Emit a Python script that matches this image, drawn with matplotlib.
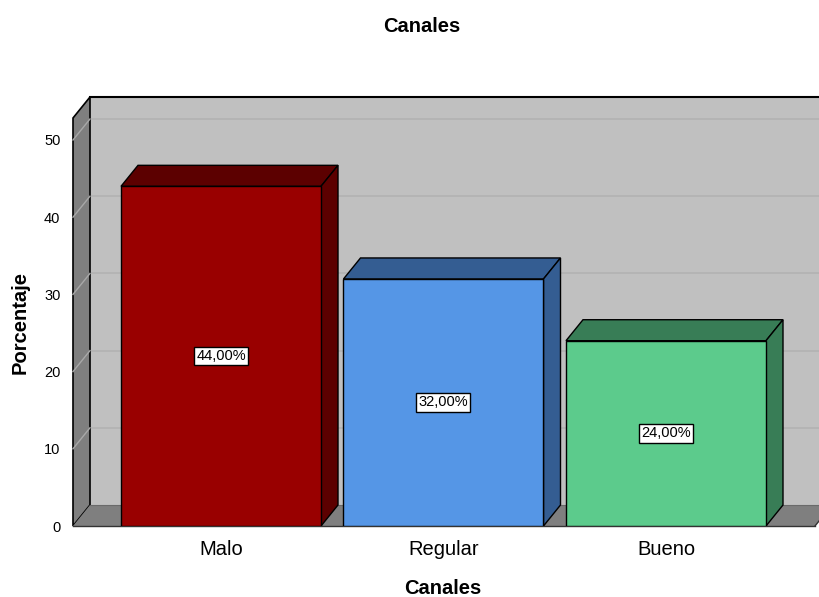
import matplotlib.pyplot as plt
from matplotlib.patches import Polygon

plt.rcParams['font.family'] = ['Liberation Sans', 'DejaVu Sans']

# datos del gráfico
categorias = ["Malo", "Regular", "Bueno"]
porcentajes = [44.0, 32.0, 24.0]
etiquetas = ["44,00%", "32,00%", "24,00%"]
color_frente = ["#990000", "#5596e6", "#5ccb8c"]
color_lado = ["#5c0000", "#345d92", "#387d56"]
yticks = [0, 10, 20, 30, 40, 50]

W, H = 820, 597
fig = plt.figure(figsize=(W / 100, H / 100), dpi=100)

# escala: 7.72 px por unidad en y, 222.5 px por categoría en x
py = 7.72
px = 222.5
x_izq = 73
y_base = 526
alto_ax = 430
ax = fig.add_axes([x_izq / W, (H - y_base) / H, (W - x_izq) / W, alto_ax / H])
x0 = -(221 - x_izq) / px
ax.set_xlim(x0, x0 + (W - x_izq) / px)
ax.set_ylim(0, alto_ax / py)

# desplazamiento de profundidad (efecto 3D)
dx = 17 / px
dy = 21 / py
tope = (y_base - 118) / py
x_fin = x0 + (815 - x_izq) / px
x_der = x0 + (W - x_izq) / px + 0.05

# pared del fondo
ax.add_patch(Polygon([(x0 + dx, dy), (x_der, dy), (x_der, tope + dy), (x0 + dx, tope + dy)],
                     closed=True, facecolor="#c0c0c0", edgecolor="none", zorder=1, clip_on=False))
ax.plot([x0 + dx, x_der], [tope + dy, tope + dy], color="black", lw=1.5, zorder=2, clip_on=False)
for v in yticks[1:]:
    ax.plot([x0 + dx, x_der], [v + dy, v + dy], color="#b2b2b2", lw=1.2, zorder=1.5, clip_on=False)

# pared izquierda
ax.add_patch(Polygon([(x0, 0), (x0 + dx, dy), (x0 + dx, tope + dy), (x0, tope)],
                     closed=True, facecolor="#7f7f7f", edgecolor="black", lw=1.2, zorder=2, clip_on=False))
for v in yticks[1:]:
    ax.plot([x0, x0 + dx], [v, v + dy], color="#a8a8a8", lw=1, zorder=2.5, clip_on=False)

# piso
ax.add_patch(Polygon([(x0, 0), (x_fin, 0), (x_fin + dx, dy), (x0 + dx, dy)],
                     closed=True, facecolor="#7f7f7f", edgecolor="none", zorder=2, clip_on=False))
ax.plot([x0, x_fin], [0, 0], color="#333333", lw=1, zorder=2.6, clip_on=False)
ax.plot([x_fin, x_fin + dx], [0, dy], color="#333333", lw=1, zorder=2.6, clip_on=False)
ax.plot([x0 + dx, x_der], [dy, dy], color="#6a6a6a", lw=0.8, zorder=2.6, clip_on=False)

# barras en 3D: tapa, lateral y frente
ancho = 200 / px
for i, (val, cf, cl) in enumerate(zip(porcentajes, color_frente, color_lado)):
    a = i - ancho / 2
    b = i + ancho / 2
    ax.add_patch(Polygon([(a, val), (b, val), (b + dx, val + dy), (a + dx, val + dy)],
                         closed=True, facecolor=cl, edgecolor="black", lw=1, zorder=3))
    ax.add_patch(Polygon([(b, 0), (b + dx, dy), (b + dx, val + dy), (b, val)],
                         closed=True, facecolor=cl, edgecolor="black", lw=1, zorder=3))
    ax.add_patch(Polygon([(a, 0), (b, 0), (b, val), (a, val)],
                         closed=True, facecolor=cf, edgecolor="black", lw=1, zorder=4))
    ax.text(i, val / 2, etiquetas[i], ha="center", va="center", fontsize=10.5, zorder=5,
            bbox=dict(boxstyle="square,pad=0.15", facecolor="white", edgecolor="black", lw=1))

for s in ax.spines.values():
    s.set_visible(False)
ax.set_facecolor("none")
ax.set_yticks(yticks)
ax.set_yticklabels([str(t) for t in yticks], fontsize=10.5, va="center_baseline")
ax.set_xticks(range(len(categorias)))
ax.set_xticklabels(categorias, fontsize=14.5)
ax.tick_params(axis="y", length=0, pad=9)
ax.tick_params(axis="x", length=0, pad=10)

fig.text(422 / W, 1 - 27 / H, "Canales", ha="center", va="center", fontsize=14.5, fontweight="bold")
fig.text(443 / W, 1 - 588 / H, "Canales", ha="center", va="center", fontsize=14.5, fontweight="bold")
fig.text(20 / W, 1 - 322 / H, "Porcentaje", ha="center", va="center", rotation=90,
         fontsize=14.5, fontweight="bold")

fig.savefig("out.png", dpi=100)
